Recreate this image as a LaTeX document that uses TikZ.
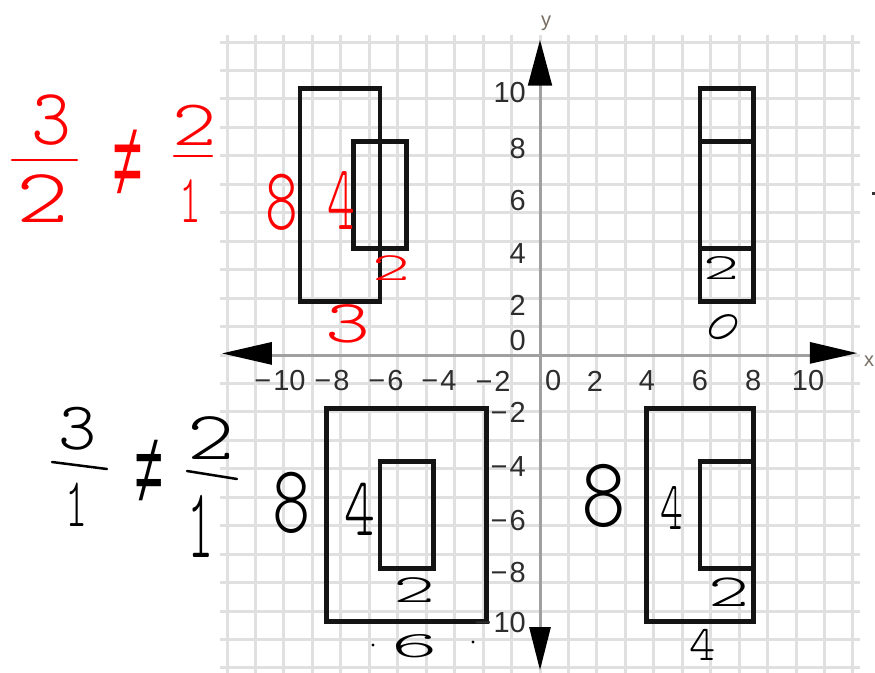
\documentclass[tikz,border=0pt]{standalone}
\usepackage{fontspec}
\setmainfont{Liberation Sans}
\newfontfamily\handfont{lmmonolt10-regular.otf}
\definecolor{gridc}{RGB}{224,224,224}
\definecolor{axisc}{RGB}{160,160,160}
\definecolor{labc}{RGB}{45,45,45}
\definecolor{hred}{RGB}{255,0,0}
\definecolor{axlab}{RGB}{120,110,100}
\begin{document}
\begin{tikzpicture}[x=26.667pt,y=26.667pt,
  gridline/.style={draw=gridc,line width=3pt},
  axisline/.style={draw=axisc,line width=3pt},
  shapeline/.style={draw=black!92,line width=4.5pt,line join=miter},
  tipfill/.style={fill=black},
  ticklab/.style={text=labc,font=\fontsize{29}{29}\selectfont,inner sep=0pt},
  hand/.style={inner sep=0pt,font=\handfont\fontsize{#1}{#1}\selectfont},
  handsym/.style={inner sep=0pt,font=\fontsize{#1}{#1}\selectfont},
  handline/.style={line width=2.5pt,line cap=round},
]
\useasboundingbox (-540pt,-317pt) rectangle (335pt,355pt);
\fill[white] (-540pt,-317pt) rectangle (335pt,355pt);
% grid
\draw[gridline] (-12,-12) grid (12,12);
% axes
\draw[axisline] (-10.2,0) -- (10.3,0);
\draw[axisline] (0,-10.3) -- (0,10.3);
\fill[tipfill] (0,11.81) -- (-0.46,10.1) -- (0.46,10.1) -- cycle;
\fill[tipfill] (0,-11.81) -- (-0.41,-10.2) -- (0.41,-10.2) -- cycle;
\fill[tipfill] (-11.92,0.06) -- (-10.05,0.49) -- (-10.05,-0.37) -- cycle;
\fill[tipfill] (11.89,0.07) -- (10.12,0.49) -- (10.12,-0.33) -- cycle;
% rectangles
\draw[shapeline] (-9,2) rectangle (-6,10);
\draw[shapeline] (-7,4) rectangle (-5,8);
\draw[shapeline] (6,2) rectangle (8,10);
\draw[shapeline] (6,8) -- (8,8);
\draw[shapeline] (6,4) -- (8,4);
\draw[shapeline] (-8,-10) rectangle (-2,-2);
\draw[shapeline] (-6,-8) rectangle (-4,-4);
\draw[shapeline] (4,-10) rectangle (8,-2);
\draw[shapeline] (8,-4) -- (6,-4) -- (6,-8) -- (8,-8);
% x tick labels
\node[ticklab] (xm10) at (-9.75,-0.975) {−\kern2pt10};
\node[ticklab] (xm8) at (-7.8,-0.975) {−\kern2pt8};
\node[ticklab] (xm6) at (-5.775,-0.975) {−\kern2pt6};
\node[ticklab] (xm4) at (-3.79,-0.975) {−\kern2pt4};
\node[ticklab] (xm2) at (-1.76,-0.975) {−\kern2pt2};
\node[ticklab] (x0) at (0.49,-0.975) {0};
\node[ticklab] (x2) at (2.06,-0.975) {2};
\node[ticklab] (x4) at (4.01,-0.975) {4};
\node[ticklab] (x6) at (6,-0.975) {6};
\node[ticklab] (x8) at (7.99,-0.975) {8};
\node[ticklab] (x10) at (10.05,-0.975) {10};
% y tick labels
\node[ticklab,anchor=east] (y10) at (-0.525,9.825) {10};
\node[ticklab,anchor=east] (y8) at (-0.525,7.76) {8};
\node[ticklab,anchor=east] (y6) at (-0.525,5.81) {6};
\node[ticklab,anchor=east] (y4) at (-0.525,3.79) {4};
\node[ticklab,anchor=east] (y2) at (-0.525,1.87) {2};
\node[ticklab,anchor=east] (y0) at (-0.525,0.56) {0};
\node[ticklab,anchor=east] (ym2) at (-0.525,-2.14) {−\kern2pt2};
\node[ticklab,anchor=east] (ym4) at (-0.525,-4.2) {−\kern2pt4};
\node[ticklab,anchor=east] (ym6) at (-0.525,-6.19) {−\kern2pt6};
\node[ticklab,anchor=east] (ym8) at (-0.525,-8.17) {−\kern2pt8};
\node[ticklab,anchor=east] (ym10) at (-0.525,-10.05) {−\kern2pt10};
% handwritten annotations, placed in pixel coordinates
\begin{scope}[x=1pt,y=-1pt,shift={(-540pt,355pt)}]
  \node[handsym=20,text=axlab] (ylab) at (546,23) {y};
  \node[handsym=20,text=axlab] (xlab) at (869,361) {x};
  \fill[black!80] (872,192.5) rectangle (875,195.5);
  % red, top left
  \node[hand=80,text=hred,xscale=0.95] (r3) at (51,120) {3};
  \draw[handline,draw=hred] (12,160) -- (77,160);
  \node[hand=77,text=hred,xscale=1.3] (r2a) at (43,199) {2};
  \node[handsym=105,text=hred,xscale=0.5] (rne) at (128,163) {≠};
  \node[hand=65,text=hred,xscale=1.3] (r2b) at (195,125) {2};
  \draw[handline,draw=hred] (174,156) -- (212,156);
  \node[hand=69,text=hred,xscale=0.6] (r1) at (190,201) {1};
  \node[hand=89,text=hred,xscale=0.7] (r8) at (282,202) {8};
  \node[hand=93,text=hred,xscale=0.57] (r4) at (341,201) {4};
  \node[hand=40,text=hred,xscale=1.8] (r2c) at (391,268) {2};
  \node[hand=61,text=hred,xscale=1.4] (r3b) at (348,324) {3};
  % black, bottom left
  \node[hand=68,xscale=1.07] (b3) at (78,429) {3};
  \draw[handline] (52,462) -- (107,469);
  \node[hand=70,xscale=0.6] (b1) at (77,505) {1};
  \node[handsym=100,xscale=0.5] (bne) at (149,472) {≠};
  \node[hand=69,xscale=1.3] (b2) at (211,438) {2};
  \draw[handline] (187,471) -- (237,479);
  \node[hand=100,xscale=0.5] (b1b) at (201,526) {1};
  \node[hand=97,xscale=0.75] (b8) at (292,503) {8};
  \node[hand=84,xscale=0.7] (b4) at (360,509) {4};
  \node[hand=40,xscale=2] (b2b) at (415,590) {2};
  \node[hand=37,xscale=2.4] (b6) at (415,646) {6};
  \fill (373,645) circle (1.6);
  \fill (473,642) circle (1.6);
  % black, bottom right
  \node[hand=100,xscale=0.85] (b8b) at (604,496) {8};
  \node[hand=69,xscale=0.63] (b4b) at (672,508) {4};
  \node[hand=46,xscale=1.7] (b2c) at (729,592) {2};
  \node[hand=50] (b4c) at (703,645) {4};
  % black, top right
  \node[hand=37,xscale=1.85] (b2d) at (721,268) {2};
  \node[hand=50,rotate=-54] (b0) at (724,327) {0};
\end{scope}
\end{tikzpicture}
\end{document}
